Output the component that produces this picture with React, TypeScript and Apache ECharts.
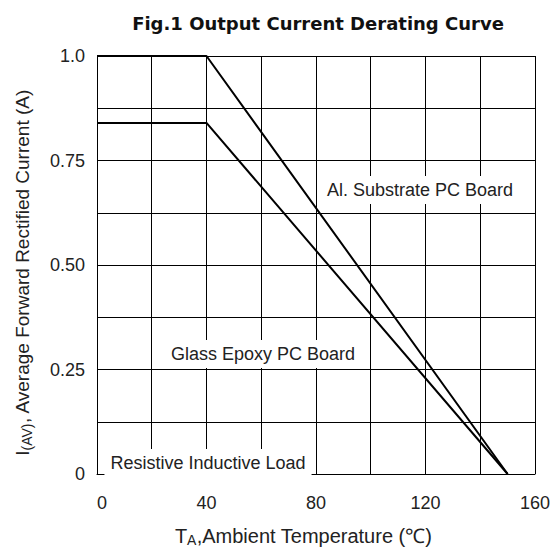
import React, { useEffect, useRef } from "react";
import * as echarts from "echarts";

const titleText = "Fig.1 Output Current Derating Curve";
const xTickLabels: Record<number, string> = { 0: "0", 40: "40", 80: "80", 120: "120", 160: "160" };
const yTickLabels: Record<string, string> = { "1": "1.0", "0.75": "0.75", "0.5": "0.50", "0.25": "0.25", "0": "0" };
const alSubstrateTemp = [0, 40, 150];
const alSubstrateCurrent = [1.0, 1.0, 0];
const glassEpoxyTemp = [0, 40, 150];
const glassEpoxyCurrent = [0.84, 0.84, 0];
const annotations = [
  { text: "Al. Substrate PC Board", x: 420, y: 190 },
  { text: "Glass Epoxy PC Board", x: 263, y: 354 },
  { text: "Resistive Inductive Load", x: 208, y: 463 },
];

const FONT = "'Liberation Sans', Arial, sans-serif";

export default function App() {
  const ref = useRef<HTMLDivElement>(null);
  useEffect(() => {
    if (!ref.current) return;
    const chart = echarts.init(ref.current, undefined, { renderer: "svg" });
    const lineStyle = { color: "#000", width: 2 };
    chart.setOption({
      animation: false,
      backgroundColor: "#fff",
      title: {
        text: titleText,
        left: 313,
        top: 9,
        textAlign: "center",
        textStyle: { fontFamily: "'DejaVu Sans', sans-serif", fontWeight: "bold", fontSize: 18, color: "#111" },
      },
      grid: { left: 97, right: 11, top: 56, bottom: 71, containLabel: false, show: false },
      xAxis: {
        type: "value",
        min: 0,
        max: 160,
        interval: 20,
        axisLine: { show: true, lineStyle: { color: "#000", width: 1 } },
        axisTick: { show: false },
        splitLine: { show: true, lineStyle: { color: "#000", width: 1 } },
        axisLabel: {
          formatter: (v: number) => xTickLabels[v] ?? "",
          fontFamily: FONT,
          fontSize: 18,
          color: "#222",
          margin: 20,
          alignMinLabel: "left",
        },
        name: "{n|T}{s|A}{n|,Ambient Temperature (℃)}",
        nameLocation: "middle",
        nameGap: 50,
        nameTextStyle: {
          padding: [0, 25, 0, 0],
          rich: {
            n: { fontFamily: FONT, fontSize: 20, color: "#222" },
            s: { fontFamily: FONT, fontSize: 14, color: "#222", padding: [9, 0, 0, 0] },
          },
        },
      },
      yAxis: {
        type: "value",
        min: 0,
        max: 1,
        interval: 0.125,
        axisLine: { show: true, lineStyle: { color: "#000", width: 1 } },
        axisTick: { show: false },
        splitLine: { show: true, lineStyle: { color: "#000", width: 1 } },
        axisLabel: {
          formatter: (v: number) => yTickLabels[String(v)] ?? "",
          fontFamily: FONT,
          fontSize: 18,
          color: "#222",
          margin: 12,
        },
        name: "{n|I}{s|(AV)}{n|, Average Forward Rectified Current (A)}",
        nameLocation: "middle",
        nameGap: 63,
        nameRotate: 90,
        nameTextStyle: {
          padding: [0, 15, 0, 0],
          rich: {
            n: { fontFamily: FONT, fontSize: 19, color: "#222" },
            s: { fontFamily: FONT, fontSize: 14, color: "#222", padding: [9, 0, 0, 0] },
          },
        },
      },
      series: [
        {
          type: "line",
          name: "Al. Substrate PC Board",
          data: alSubstrateTemp.map((t, i) => [t, alSubstrateCurrent[i]]),
          symbol: "none",
          lineStyle,
          z: 5,
        },
        {
          type: "line",
          name: "Glass Epoxy PC Board",
          data: glassEpoxyTemp.map((t, i) => [t, glassEpoxyCurrent[i]]),
          symbol: "none",
          lineStyle,
          z: 5,
        },
      ],
      graphic: annotations.map((a) => ({
        type: "text",
        x: a.x,
        y: a.y,
        z: 10,
        style: {
          text: a.text,
          font: `18px ${FONT}`,
          fill: "#222",
          align: "center",
          verticalAlign: "middle",
          backgroundColor: "#fff",
          padding: [5, 6, 5, 6],
        },
      })),
    });
    return () => chart.dispose();
  }, []);
  return <div ref={ref} style={{ width: 553, height: 552, position: "absolute", left: 0, top: 0 }} />;
}
